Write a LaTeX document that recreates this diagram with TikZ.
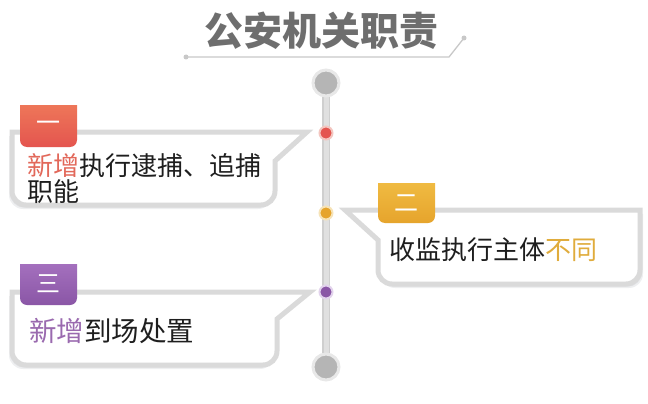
\documentclass[tikz,border=0pt]{standalone}
\usepackage{fontspec}
\newfontfamily\cjk{Noto Sans CJK SC}
\usetikzlibrary{shadows}
\definecolor{titlegray}{HTML}{6E6E6E}
\definecolor{linegray}{HTML}{C8C8C8}
\definecolor{boxgray}{HTML}{DADADA}
\definecolor{barout}{HTML}{CFCFCF}
\definecolor{barin}{HTML}{E0E0E0}
\definecolor{bigfill}{HTML}{B5B5B5}
\definecolor{bigring}{HTML}{E8E8E8}
\definecolor{redc}{HTML}{E2685A}
\definecolor{redtop}{HTML}{F07E5B}
\definecolor{redbot}{HTML}{E4554F}
\definecolor{redring}{HTML}{F3C6C0}
\definecolor{yelc}{HTML}{E0AC3C}
\definecolor{yeltop}{HTML}{F2C047}
\definecolor{yelbot}{HTML}{E6A42C}
\definecolor{yelring}{HTML}{F6E3B8}
\definecolor{purc}{HTML}{9A6AAF}
\definecolor{purtop}{HTML}{AA76C3}
\definecolor{purbot}{HTML}{8A56A6}
\definecolor{purring}{HTML}{E2D3EC}
\definecolor{txt}{HTML}{1E1E1E}
\definecolor{shadc}{HTML}{5A6070}
\tikzset{
  titletext/.style={font=\cjk\bfseries\fontsize{39}{39}\selectfont, text=titlegray, inner sep=0},
  body/.style={font=\cjk\fontsize{26}{26}\selectfont, text=txt, inner sep=0, anchor=west, align=left},
  bodybig/.style={body, font=\cjk\fontsize{27.5}{27.5}\selectfont},
  tablabel/.style={font=\cjk\fontsize{24}{24}\selectfont, text=white, inner sep=0},
  bigdot/.style={circle, minimum size=26pt, inner sep=0, fill=bigfill, draw=bigring, line width=3pt},
  smalldot/.style={circle, minimum size=13pt, inner sep=0, line width=2pt},
  endpt/.style={circle, minimum size=5pt, inner sep=0, fill=linegray},
  callout/.style={draw=boxgray, fill=white, line width=5pt, line join=miter},
  shadl/.style={drop shadow={shadow xshift=-3pt, shadow yshift=-4pt, opacity=0.10, fill=shadc},
                drop shadow={shadow xshift=-2pt, shadow yshift=-2.5pt, opacity=0.10, fill=shadc}},
  shadr/.style={drop shadow={shadow xshift=3pt, shadow yshift=-4pt, opacity=0.10, fill=shadc},
                drop shadow={shadow xshift=2pt, shadow yshift=-2.5pt, opacity=0.10, fill=shadc}},
}
\begin{document}
\begin{tikzpicture}[x=1pt,y=-1pt]
\useasboundingbox (0,0) rectangle (648,404);

% title
\node[titletext] (title) at (321,31) {公安机关职责};
\node[endpt] (u1) at (186,57) {};
\coordinate (u2) at (449,57);
\node[endpt] (u3) at (464,38) {};
\draw[linegray, line width=1.3pt] (u1.center) -- (u2) -- (u3.center);

% timeline
\coordinate (ttop) at (326,83);
\coordinate (tbot) at (326,367);
\draw[barout, line width=8pt] (ttop) -- (tbot);
\draw[barin, line width=5pt] (ttop) -- (tbot);

% boxes
\draw[callout, shadl] (12,132) -- (307,132) -- (275,161) -- (275,191) .. controls (275,198.7) and (268.7,205) .. (261,205) -- (26,205) .. controls (18.3,205) and (12,198.7) .. (12,191) -- cycle;
\draw[callout, shadr] (640,210) -- (345,210) -- (378,240) -- (378,270) .. controls (378,277.7) and (384.3,284) .. (392,284) -- (626,284) .. controls (633.7,284) and (640,277.7) .. (640,270) -- cycle;
\draw[callout, shadl] (12,292) -- (310,292) -- (277,319) -- (277,351) .. controls (277,358.7) and (270.7,365) .. (263,365) -- (26,365) .. controls (18.3,365) and (12,358.7) .. (12,351) -- cycle;

% tabs
\begin{scope}
\clip (20,105) rectangle (77,152);
\shade[top color=redtop, bottom color=redbot, rounded corners=7pt] (20,95) rectangle (77,147);
\end{scope}
\begin{scope}
\clip (378,183) rectangle (435,228);
\shade[top color=yeltop, bottom color=yelbot, rounded corners=7pt] (378,173) rectangle (435,223);
\end{scope}
\begin{scope}
\clip (20,264) rectangle (77,310);
\shade[top color=purtop, bottom color=purbot, rounded corners=7pt] (20,254) rectangle (77,305);
\end{scope}
\node[tablabel] (tab1) at (48.5,126) {一};
\node[tablabel] (tab2) at (406.5,203) {二};
\node[tablabel] (tab3) at (48.5,284) {三};

% texts
\node[body] (b1) at (27,179) {\textcolor{redc}{新增}执行逮捕、追捕\\职能};
\node[body] (b2) at (389,250) {收监执行主体\textcolor{yelc}{不同}};
\node[bodybig] (b3) at (29,331) {\textcolor{purc}{新增}到场处置};

% timeline dots
\node[bigdot] (top) at (ttop) {};
\node[bigdot] (bot) at (tbot) {};
\node[smalldot, fill=redbot, draw=redring] (d1) at (326,133) {};
\node[smalldot, fill=yelbot, draw=yelring] (d2) at (326,213) {};
\node[smalldot, fill=purbot, draw=purring] (d3) at (326,292) {};
\end{tikzpicture}
\end{document}
